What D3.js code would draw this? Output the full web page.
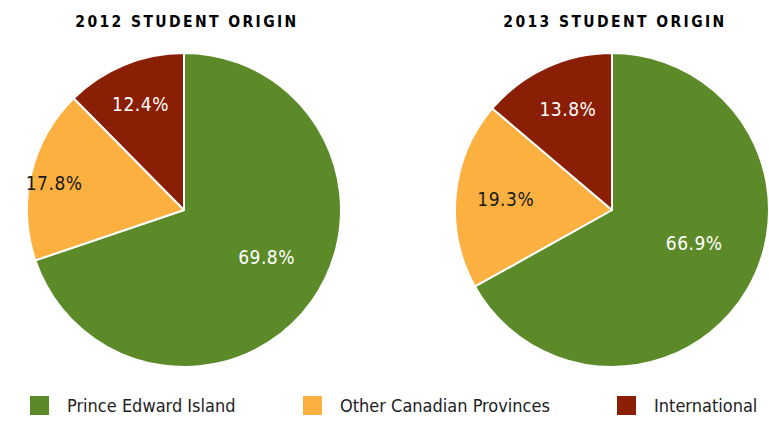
<!DOCTYPE html>
<html>
<head>
<meta charset="utf-8">
<script src="https://cdn.jsdelivr.net/npm/d3@7"></script>
<style>
  body { margin: 0; background: #fff; }
  text { font-family: "DejaVu Sans Condensed", "DejaVu Sans", sans-serif; }
</style>
</head>
<body>
<svg width="769" height="421"></svg>
<script>
const categories = ['Prince Edward Island', 'Other Canadian Provinces', 'International'];
const years = ['2012', '2013'];
const values2012 = [69.8, 17.8, 12.4];
const values2013 = [66.9, 19.3, 13.8];
const colors = ['#5c8a29', '#fbb040', '#8b1f05'];

const svg = d3.select('svg');
const width = +svg.attr('width');
const height = +svg.attr('height');

const radius = 157;
const centers = [184, 612];
const cy = 210;
// label distance as share of the radius, per slice, plus a small nudge
const labelFactor = [[0.6, 0.85, 0.73], [0.57, 0.68, 0.745]];
const labelNudge = [[[6, -8], [0, 4], [0, 0]], [[5, -12], [0, 0], [5, 5]]];

const colorScale = d3.scaleOrdinal().domain(categories).range(colors);

const pie = d3.pie().sort(null).value(d => d.value);
const arc = d3.arc().innerRadius(0).outerRadius(radius);

[values2012, values2013].forEach((vals, ci) => {
    const data = categories.map((c, i) => ({ key: c, value: vals[i] }));
    const arcs = pie(data);

    const g = svg.append('g')
        .attr('transform', `translate(${centers[ci]}, ${cy})`);

    g.selectAll('path')
        .data(arcs)
        .enter().append('path')
        .attr('d', arc)
        .attr('fill', d => colorScale(d.data.key))
        .attr('stroke', '#fff')
        .attr('stroke-width', 2)
        .attr('stroke-linejoin', 'round');

    g.selectAll('.lbl')
        .data(arcs)
        .enter().append('text')
        .attr('class', 'lbl')
        .attr('transform', (d, i) => {
            const r = radius * labelFactor[ci][i];
            const la = d3.arc().innerRadius(r).outerRadius(r);
            const [x, y] = la.centroid(d);
            const [nx, ny] = labelNudge[ci][i];
            return `translate(${x + nx}, ${y + ny})`;
        })
        .attr('text-anchor', 'middle')
        .attr('dy', '0.35em')
        .attr('font-size', 19)
        .attr('letter-spacing', 0.5)
        .attr('fill', (d, i) => i === 1 ? '#1a1a1a' : '#fff')
        .text(d => d.data.value.toFixed(1) + '%');

    svg.append('text')
        .attr('x', centers[ci] + 3)
        .attr('y', 27)
        .attr('text-anchor', 'middle')
        .attr('font-size', 15.5)
        .attr('font-weight', 'bold')
        .attr('letter-spacing', 2.4)
        .attr('fill', '#000')
        .text(`${years[ci]} STUDENT ORIGIN`);
});

// legend
const legendX = [30, 303, 617];
const legend = svg.selectAll('.legend')
    .data(categories)
    .enter().append('g')
    .attr('transform', (d, i) => `translate(${legendX[i]}, 396)`);

legend.append('rect')
    .attr('width', 19)
    .attr('height', 19)
    .attr('fill', d => colorScale(d));

legend.append('text')
    .attr('x', 37)
    .attr('y', 16)
    .attr('font-size', 18)
    .attr('fill', '#222')
    .text(d => d);
</script>
</body>
</html>
